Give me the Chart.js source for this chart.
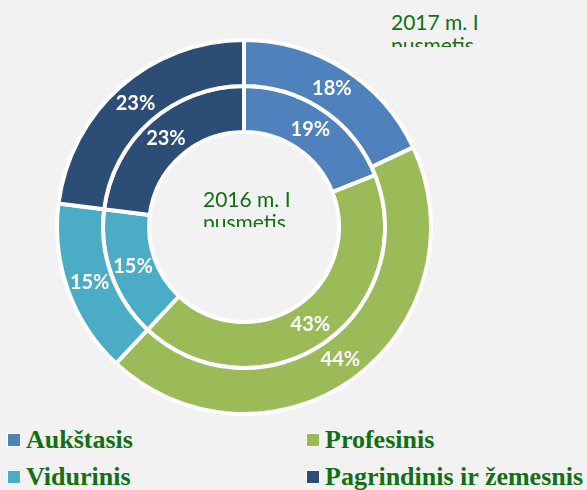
<!DOCTYPE html>
<html>
<head>
<meta charset="utf-8">
<script src="https://cdn.jsdelivr.net/npm/chart.js"></script>
<style>
    body {
        margin: 0;
        background: #f2f2f2;
        width: 587px;
        height: 490px;
        overflow: hidden;
        position: relative;
    }
    #chart-box {
        position: absolute;
        left: 55px;
        top: 38px;
        width: 378px;
        height: 378px;
    }
    .note {
        position: absolute;
        font-family: Lato, sans-serif;
        font-size: 21px;
        line-height: 23px;
        color: #117011;
        overflow: hidden;
        white-space: nowrap;
    }
    #note-outer { left: 391px; top: 10px; height: 37px; width: 130px; }
    #note-inner { left: 203px; top: 187px; height: 40px; width: 130px; }
    #legend {
        position: absolute;
        left: 7px;
        top: 427px;
        width: 600px;
    }
    .item {
        position: absolute;
        height: 37px;
        font-family: "Liberation Serif", serif;
        font-weight: bold;
        font-size: 26px;
        line-height: 25px;
        color: #117011;
        white-space: nowrap;
        padding-left: 19px;
    }
    .item span {
        position: absolute;
        left: 0;
        top: 6px;
        width: 12px;
        height: 12px;
        border: 1px solid #fff;
    }
</style>
</head>
<body>
<div id="note-outer" class="note">2017 m. I<br>pusmetis</div>
<div id="chart-box"><canvas id="chart"></canvas></div>
<div id="note-inner" class="note">2016 m. I<br>pusmetis</div>
<div id="legend"></div>

<script>
const labels = ['Aukštasis', 'Profesinis', 'Vidurinis', 'Pagrindinis ir žemesnis'];
const colors = ['#4f81bd', '#9bbb59', '#4bacc6', '#2c4d75'];
const values2017 = [18, 44, 15, 23];
const values2016 = [19, 43, 15, 23];

// percent labels in the middle of every slice //
const sliceLabels = {
    id: 'sliceLabels',
    afterDatasetsDraw(chart) {
        const ctx = chart.ctx;
        ctx.save();
        ctx.font = 'bold 20px Lato, sans-serif';
        ctx.fillStyle = '#ffffff';
        ctx.textAlign = 'center';
        ctx.textBaseline = 'middle';
        chart.data.datasets.forEach((ds, i) => {
            chart.getDatasetMeta(i).data.forEach((arc, j) => {
                const pos = arc.tooltipPosition();
                ctx.fillText(ds.data[j] + '%', pos.x, pos.y);
            });
        });
        ctx.restore();
    }
};

new Chart(document.querySelector('#chart'), {
    type: 'doughnut',
    data: {
        labels: labels,
        datasets: [
            {
                label: '2017 m. I pusmetis',
                data: values2017,
                backgroundColor: colors,
                borderColor: '#ffffff',
                borderWidth: 4
            },
            {
                label: '2016 m. I pusmetis',
                data: values2016,
                backgroundColor: colors,
                borderColor: '#ffffff',
                borderWidth: 4
            }
        ]
    },
    options: {
        responsive: true,
        maintainAspectRatio: false,
        animation: false,
        events: [],
        cutout: '50.8%',
        layout: { padding: 0 },
        plugins: {
            legend: { display: false },
            tooltip: { enabled: false }
        }
    },
    plugins: [sliceLabels]
})

// legend, two columns //
const legend = document.querySelector('#legend');
labels.forEach((name, i) => {
    const item = document.createElement('div');
    item.className = 'item';
    item.style.left = (i % 2) * 299 + 'px';
    item.style.top = Math.floor(i / 2) * 37 + 'px';
    const box = document.createElement('span');
    box.style.background = colors[i];
    item.appendChild(box);
    item.appendChild(document.createTextNode(name));
    legend.appendChild(item);
})
</script>
</body>
</html>
